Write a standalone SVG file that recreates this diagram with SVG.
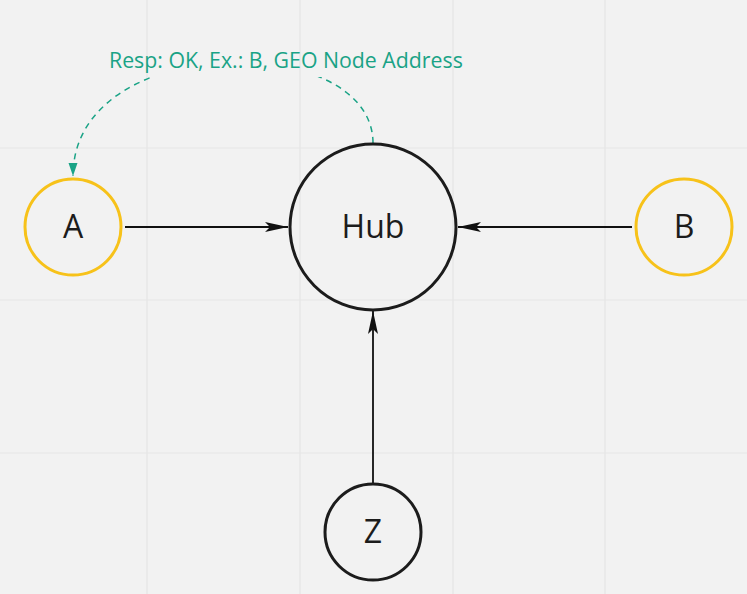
<svg xmlns="http://www.w3.org/2000/svg" width="747" height="594" viewBox="0 0 747 594">
<style>
.grid{stroke:#e5e5e5;stroke-width:1.2}
.node{fill:none;stroke-width:3}
.black{stroke:#1c1c1c}
.yellow{stroke:#f7c21a}
.lbl{font-family:"Open Sans","Noto Sans",sans-serif;font-size:32px;fill:#1c1c1c;text-anchor:middle}
.edge{stroke:#111;stroke-width:1.8;fill:none}
.dash{stroke:#1aa386;stroke-width:1.5;fill:none;stroke-dasharray:6 5}
.note{font-family:"Open Sans","Noto Sans",sans-serif;font-size:21.3px;fill:#1aa386}
</style>
<defs>
<marker id="ah" markerWidth="24" markerHeight="12" refX="23" refY="6" orient="auto" markerUnits="userSpaceOnUse">
<path d="M0,1 L23,6 L0,11 L5,6 Z" fill="#111"/>
</marker>
<marker id="ahg" markerWidth="12" markerHeight="10" refX="13" refY="5" orient="auto" markerUnits="userSpaceOnUse">
<path d="M0,0.5 L13,5 L0,9.5 Z" fill="#1aa386"/>
</marker>
<mask id="lblmask" maskUnits="userSpaceOnUse" x="0" y="0" width="747" height="594">
<rect width="747" height="594" fill="#fff"/>
<rect x="104" y="44" width="366" height="33" fill="#000"/>
</mask>
</defs>
<rect width="747" height="594" fill="#f2f2f2"/>
<g id="grid">
<line class="grid" x1="147" y1="0" x2="147" y2="594"/>
<line class="grid" x1="300" y1="0" x2="300" y2="594"/>
<line class="grid" x1="453" y1="0" x2="453" y2="594"/>
<line class="grid" x1="605" y1="0" x2="605" y2="594"/>
<line class="grid" x1="0" y1="148" x2="747" y2="148"/>
<line class="grid" x1="0" y1="300" x2="747" y2="300"/>
<line class="grid" x1="0" y1="453" x2="747" y2="453"/>
</g>
<g id="connectors">
<line class="edge" x1="125" y1="227" x2="288" y2="227" marker-end="url(#ah)"/>
<line class="edge" x1="632" y1="227" x2="458" y2="227" marker-end="url(#ah)"/>
<line class="edge" x1="373" y1="484" x2="373" y2="311" marker-end="url(#ah)"/>
<path class="dash" d="M373,143 C373,30 73,30 73,176" marker-end="url(#ahg)" mask="url(#lblmask)"/>
<text class="note" x="109" y="68">Resp: OK, Ex.: B, GEO Node Address</text>
</g>
<g id="node-a">
<circle class="node yellow" cx="73" cy="227" r="48"/>
<text class="lbl" x="73" y="238">A</text>
</g>
<g id="node-hub">
<circle class="node black" cx="373" cy="227" r="83"/>
<text class="lbl" x="373" y="238">Hub</text>
</g>
<g id="node-b">
<circle class="node yellow" cx="684" cy="227" r="48"/>
<text class="lbl" x="684" y="238">B</text>
</g>
<g id="node-z">
<circle class="node black" cx="373" cy="532" r="48"/>
<text class="lbl" x="373" y="543">Z</text>
</g>
</svg>
